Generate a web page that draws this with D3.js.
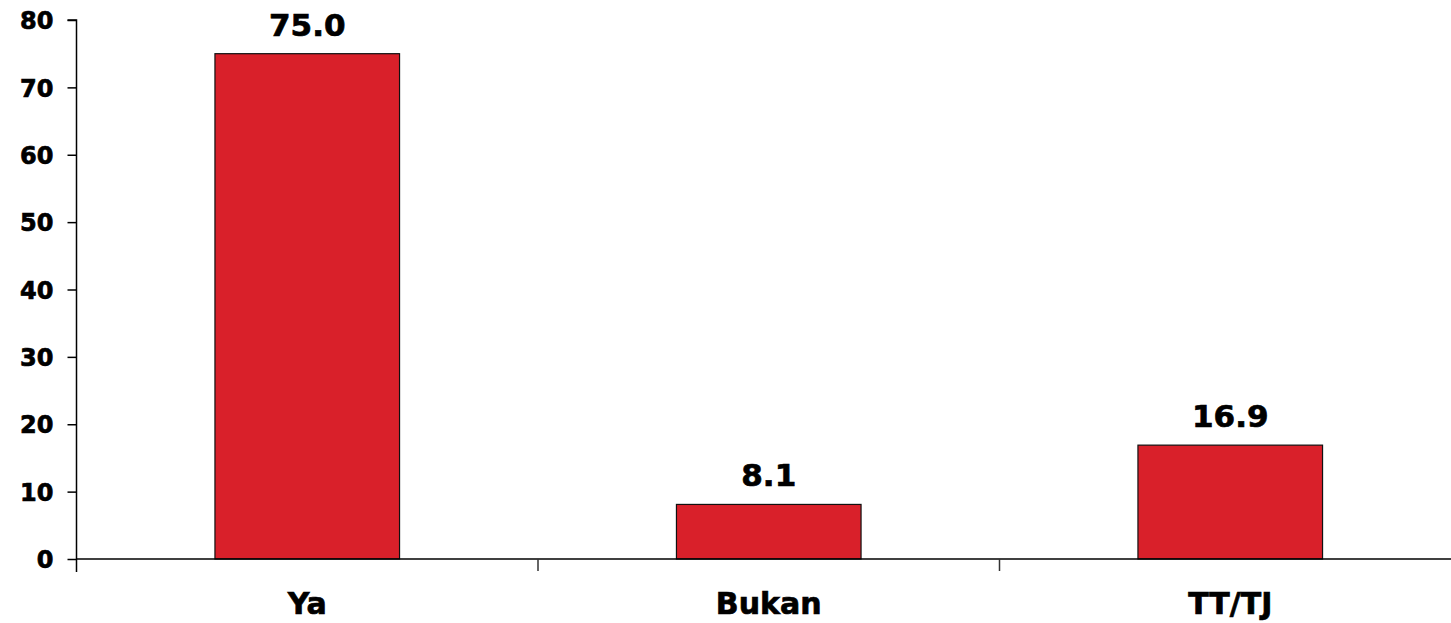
<!DOCTYPE html>
<html><head><meta charset="utf-8">
<script src="https://cdn.jsdelivr.net/npm/d3@7"></script>
<style>body{margin:0;background:#fff}svg{display:block}text{font-family:"DejaVu Sans",Verdana,sans-serif;font-weight:bold;fill:#000;stroke:#000;stroke-width:0.7px}</style>
</head><body>
<svg id="c" width="1451" height="623"></svg>
<script>
const categories = ["Ya", "Bukan", "TT/TJ"];
const values = [75.0, 8.1, 16.9];
const valueLabels = ["75.0", "8.1", "16.9"];
const yTicks = [0, 10, 20, 30, 40, 50, 60, 70, 80];

const svg = d3.select("#c");
const x0 = 76.5, x1 = 1461, yTop = 20, yBot = 559;
const x = d3.scaleBand().domain(categories).range([x0, x1]).paddingInner(0.6).paddingOuter(0.3);
const y = d3.scaleLinear().domain([0, 80]).range([yBot, yTop]);

// bars
svg.selectAll("rect.bar").data(values).enter().append("rect")
  .attr("class", "bar")
  .attr("x", (d, i) => x(categories[i]))
  .attr("width", x.bandwidth())
  .attr("y", d => y(d))
  .attr("height", d => y(0) - y(d))
  .attr("fill", "#d9202a").attr("stroke", "#111").attr("stroke-width", 1.2);

// value labels
svg.selectAll("text.val").data(values).enter().append("text")
  .attr("class", "val")
  .attr("x", (d, i) => x(categories[i]) + x.bandwidth() / 2)
  .attr("y", d => y(d) - 18)
  .attr("text-anchor", "middle").attr("font-size", 31)
  .text((d, i) => valueLabels[i]);

// y axis
const yAxis = svg.append("g").attr("transform", `translate(${x0},0)`)
  .call(d3.axisLeft(y).tickValues(yTicks).tickSize(9).tickPadding(14).tickFormat(d3.format("d")));
yAxis.select(".domain").attr("stroke", "#000").attr("stroke-width", 1.5).attr("d", `M-9,${yTop}H0V${yBot + 13}`);
yAxis.selectAll(".tick line").attr("stroke", "#000").attr("stroke-width", 1.5);
yAxis.selectAll(".tick text").attr("font-size", 24).attr("font-family", '"DejaVu Sans",Verdana,sans-serif').attr("font-weight", "bold").attr("dy", "0.36em");

// x axis
const xAxis = svg.append("g").attr("transform", `translate(0,${yBot})`)
  .call(d3.axisBottom(x).tickSize(0).tickPadding(34));
xAxis.select(".domain").attr("stroke", "#000").attr("stroke-width", 1.5).attr("d", `M${x0},0H${x1}`);
xAxis.selectAll(".tick text").attr("font-size", 30).attr("font-family", '"DejaVu Sans",Verdana,sans-serif').attr("font-weight", "bold").attr("dy", "0.71em");
// boundary ticks between categories
const bounds = categories.slice(1).map(c => x(c) - x.step() * x.paddingInner() / 2).concat([x1]);
xAxis.selectAll("line.bt").data(bounds).enter().append("line").attr("class", "bt")
  .attr("x1", d => d).attr("x2", d => d).attr("y1", 0).attr("y2", 12)
  .attr("stroke", "#333").attr("stroke-width", 1.5);
</script>
</body></html>
